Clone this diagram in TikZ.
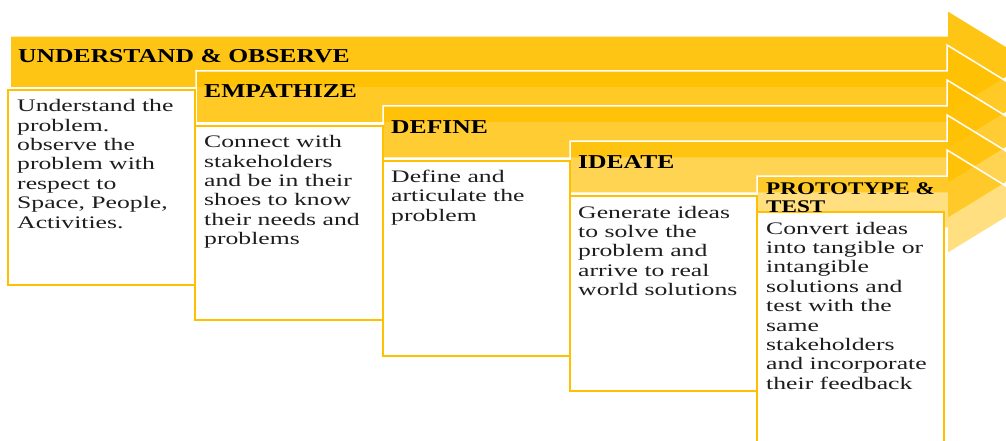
\documentclass[tikz,border=0pt]{standalone}
\usepackage{fontspec}
\newfontfamily\headfont{Liberation Serif}[FakeStretch=1.3]
\newfontfamily\bodyfont{Liberation Serif}[FakeStretch=1.46]
\definecolor{gold}{HTML}{FFC000}
\definecolor{ink}{HTML}{1E1E1E}

\tikzset{
  stagearrow/.style={fill=gold, draw=white, line width=1.5pt, line join=miter},
  stagebox/.style={fill=white, draw=gold, line width=1.8pt},
  headtext/.style={anchor=base west, inner sep=0pt, text=black,
    font=\headfont\bfseries\fontsize{19.7}{20}\selectfont},
  bodytext/.style={anchor=base west, inner sep=0pt, text=ink},
}

% one banner arrow: #1 left edge, #2 top edge, #3 fill opacity
\newcommand\phasearrow[3]{%
  \path[stagearrow, fill opacity=#3]
    (#1,#2) -- (947,#2) -- (947,#2-26) -- (1032,#2+26) -- (947,#2+78)
    -- (947,#2+52) -- (#1,#2+52) -- cycle;}

\newcommand\bodylines[1]{\parbox[t]{180pt}{\bodyfont\fontsize{17.6}{19.4}\selectfont #1}}

\begin{document}
\begin{tikzpicture}[x=1pt, y=-1pt]
\useasboundingbox (0,0) rectangle (1006,441);
\clip (0,0) rectangle (1006,441);

% banner arrows, back to front
\phasearrow{10}{36}{0.92}
\phasearrow{196}{71}{0.85}
\phasearrow{383}{106}{0.8}
\phasearrow{570}{141}{0.68}
\phasearrow{757}{176}{0.5}

% description boxes
\path[stagebox] (8,90) rectangle (195,285);
\path[stagebox] (195,126) rectangle (383,320);
\path[stagebox] (383,161) rectangle (570,356);
\path[stagebox] (570,196) rectangle (757,391);
\path[stagebox] (757,212) rectangle (944,470);

% phase titles
\node[headtext] (h1) at (18,63) {UNDERSTAND \& OBSERVE};
\node[headtext] (h2) at (204,98) {EMPATHIZE};
\node[headtext] (h3) at (391,133) {DEFINE};
\node[headtext] (h4) at (578,168) {IDEATE};
\node[headtext, font=\headfont\bfseries\fontsize{17.8}{18}\selectfont] (h5) at (766,194)
  {\parbox[t]{180pt}{PROTOTYPE \&\\TEST}};

% phase descriptions
\node[bodytext] (d1) at (17,111.7) {\bodylines{Understand the\\problem.\\observe the\\problem with\\respect to\\Space, People,\\Activities.}};
\node[bodytext] (d2) at (204,147.7) {\bodylines{Connect with\\stakeholders\\and be in their\\shoes to know\\their needs and\\problems}};
\node[bodytext] (d3) at (391,182.5) {\bodylines{Define and\\articulate the\\problem}};
\node[bodytext] (d4) at (578,218) {\bodylines{Generate ideas\\to solve the\\problem and\\arrive to real\\world solutions}};
\node[bodytext] (d5) at (766,234) {\bodylines{Convert ideas\\into tangible or\\intangible\\solutions and\\test with the\\same\\stakeholders\\and incorporate\\their feedback}};
\end{tikzpicture}
\end{document}
